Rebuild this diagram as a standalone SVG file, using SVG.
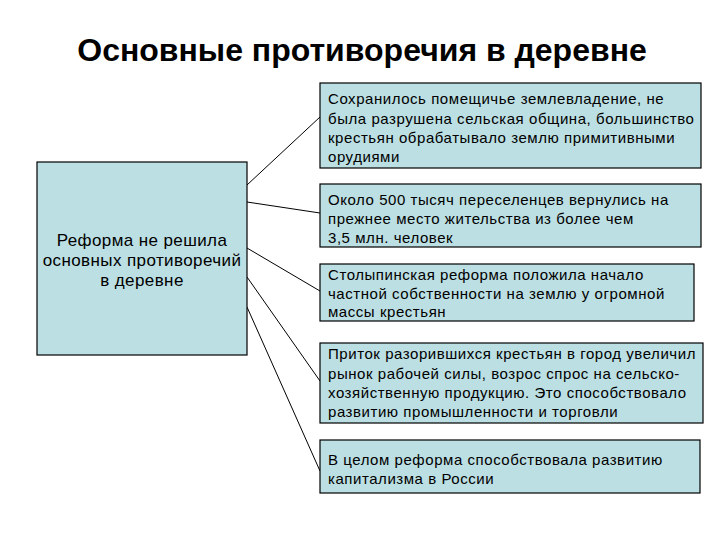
<svg xmlns="http://www.w3.org/2000/svg" width="720" height="540" viewBox="0 0 720 540">
<style>
.box{fill:#bcdfe3;stroke:#000;stroke-width:1.2}
.t{font-family:"Liberation Sans",Arial,sans-serif;font-size:15px;letter-spacing:0.55px;fill:#000}
.c{font-family:"Liberation Sans",Arial,sans-serif;font-size:17px;letter-spacing:0.4px;fill:#000;text-anchor:middle}
.title{font-family:"Liberation Sans",Arial,sans-serif;font-size:32px;font-weight:bold;fill:#000;text-anchor:middle}
.ln{stroke:#000;stroke-width:1;fill:none}
</style>
<rect width="720" height="540" fill="#fff"/>
<text class="title" x="362" y="61">Основные противоречия в деревне</text>
<g id="connectors">
<line class="ln" x1="247" y1="185" x2="320" y2="117"/>
<line class="ln" x1="247" y1="202" x2="320" y2="213"/>
<line class="ln" x1="247" y1="248" x2="320" y2="291"/>
<line class="ln" x1="247" y1="277" x2="320" y2="381"/>
<line class="ln" x1="247" y1="307" x2="320" y2="471"/>
</g>
<g id="main">
<rect class="box" x="37" y="162" width="210" height="193"/>
<text class="c" x="142" y="246">Реформа не решила</text>
<text class="c" x="142" y="266">основных противоречий</text>
<text class="c" x="142" y="286">в деревне</text>
</g>
<g id="n1">
<rect class="box" x="320" y="83" width="381" height="85"/>
<text class="t" x="328" y="104">Сохранилось помещичье землевладение, не</text>
<text class="t" x="328" y="124">была разрушена сельская община, большинство</text>
<text class="t" x="328" y="143">крестьян обрабатывало землю примитивными</text>
<text class="t" x="328" y="162">орудиями</text>
</g>
<g id="n2">
<rect class="box" x="320" y="184" width="381" height="63"/>
<text class="t" x="328" y="205">Около 500 тысяч переселенцев вернулись на</text>
<text class="t" x="328" y="224">прежнее место жительства из более чем</text>
<text class="t" x="328" y="243">3,5 млн. человек</text>
</g>
<g id="n3">
<rect class="box" x="320" y="264" width="374" height="57"/>
<text class="t" x="328" y="280">Столыпинская реформа положила начало</text>
<text class="t" x="328" y="299">частной собственности на землю у огромной</text>
<text class="t" x="328" y="317">массы крестьян</text>
</g>
<g id="n4">
<rect class="box" x="320" y="343" width="383" height="80"/>
<text class="t" x="328" y="359">Приток разорившихся крестьян в город увеличил</text>
<text class="t" x="328" y="379">рынок рабочей силы, возрос спрос на сельско-</text>
<text class="t" x="328" y="398">хозяйственную продукцию. Это способствовало</text>
<text class="t" x="328" y="417">развитию промышленности и торговли</text>
</g>
<g id="n5">
<rect class="box" x="320" y="440" width="380" height="53"/>
<text class="t" x="328" y="465">В целом реформа способствовала развитию</text>
<text class="t" x="328" y="484">капитализма в России</text>
</g>
</svg>
